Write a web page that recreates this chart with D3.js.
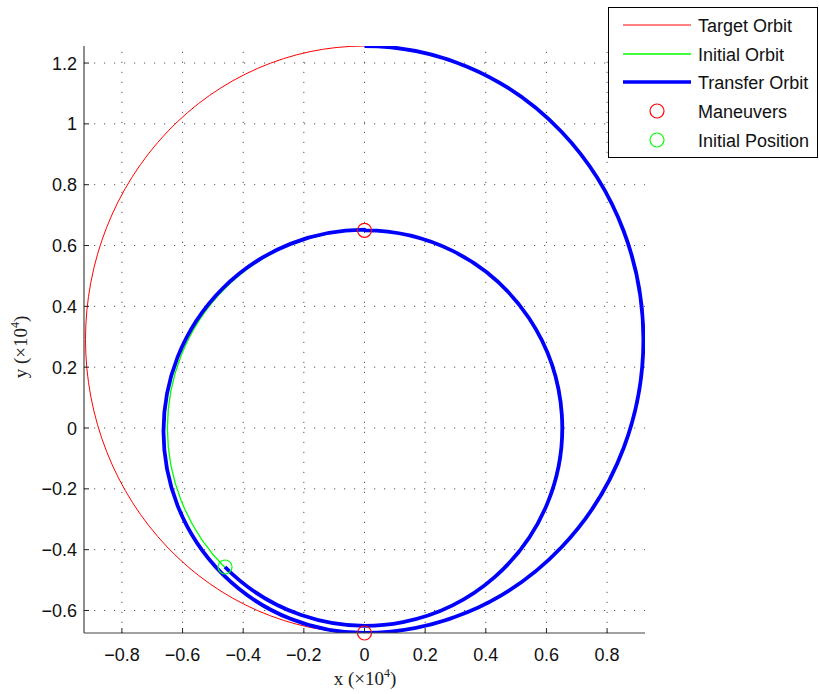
<!DOCTYPE html>
<html>
<head>
<meta charset="utf-8">
<script src="https://cdn.jsdelivr.net/npm/d3@7"></script>
<style>
  html, body { margin: 0; padding: 0; background: #fff; }
  svg { display: block; }
</style>
</head>
<body>
<svg id="chart" width="819" height="694"></svg>
<script>
// ---------- data (units of 10^4) ----------
const xTicks = [-0.8, -0.6, -0.4, -0.2, 0, 0.2, 0.4, 0.6, 0.8];
const yTicks = [-0.6, -0.4, -0.2, 0, 0.2, 0.4, 0.6, 0.8, 1, 1.2];
const xDomain = [-0.925, 0.925];
const yDomain = [-0.674, 1.256];

// Target orbit: apsides on the y axis (perigee y, apogee y)
const targetApsides = [-0.674, 1.256];
// Initial orbit: circle radius
const initialRadius = [0.65];
// Transfer ellipse apsides on the y axis (periapsis y, apoapsis y)
const transferApsides = [0.652, -0.674];
// Maneuver points
const maneuverX = [0, 0];
const maneuverY = [0.65, -0.674];
// Initial position
const initialPosX = [-0.46];
const initialPosY = [-0.457];

const legendLabels = ["Target Orbit", "Initial Orbit", "Transfer Orbit", "Maneuvers", "Initial Position"];

// ---------- layout ----------
const svg = d3.select("#chart");
const plot = { left: 84, right: 645, top: 46, bottom: 633 };
const x = d3.scaleLinear().domain(xDomain).range([plot.left, plot.right]);
const y = d3.scaleLinear().domain(yDomain).range([plot.bottom, plot.top]);

const RED = "#ff0000", GREEN = "#00ff00", BLUE = "#0000ff";
const sans = "'Liberation Sans', Arial, Helvetica, sans-serif";
const serif = "'Liberation Serif', 'DejaVu Serif', serif";

svg.append("defs").append("clipPath").attr("id", "clip")
  .append("rect")
  .attr("x", plot.left).attr("y", plot.top)
  .attr("width", plot.right - plot.left).attr("height", plot.bottom - plot.top);

// ---------- grid ----------
const grid = svg.append("g");
grid.selectAll("line.gx").data(xTicks).join("line")
  .attr("x1", d => x(d)).attr("x2", d => x(d))
  .attr("y1", plot.bottom).attr("y2", plot.top)
  .attr("stroke", "#555").attr("stroke-width", 1)
  .attr("stroke-dasharray", "1.2,8.8");
grid.selectAll("line.gy").data(yTicks).join("line")
  .attr("y1", d => y(d)).attr("y2", d => y(d))
  .attr("x1", plot.left).attr("x2", plot.right)
  .attr("stroke", "#555").attr("stroke-width", 1)
  .attr("stroke-dasharray", "1.2,8.8");

// ---------- orbits ----------
const lines = svg.append("g").attr("clip-path", "url(#clip)");
const pxX = v => x(v) - x(0);
const pxY = v => y(0) - y(v);

// target ellipse (focus at origin)
const tP = targetApsides[0], tA = targetApsides[1];
const tCenter = (tP + tA) / 2;
const tSemiMajor = (tA - tP) / 2;
const tSemiMinor = Math.sqrt(Math.abs(tP) * tA);
lines.append("ellipse")
  .attr("cx", x(0)).attr("cy", y(tCenter))
  .attr("rx", pxX(tSemiMinor)).attr("ry", pxY(tSemiMajor))
  .attr("fill", "none").attr("stroke", RED).attr("stroke-width", 1);

// initial circle
lines.append("ellipse")
  .attr("cx", x(0)).attr("cy", y(0))
  .attr("rx", pxX(initialRadius[0])).attr("ry", pxY(initialRadius[0]))
  .attr("fill", "none").attr("stroke", GREEN).attr("stroke-width", 1.3);

// transfer path: initial circle arc -> transfer ellipse -> target ellipse
const trP = transferApsides[0], trA = transferApsides[1];
const trSemiMajor = (trP - trA) / 2;
const trSemiMinor = Math.sqrt(trP * Math.abs(trA));
const r0 = initialRadius[0];
const transferPath =
  `M${x(initialPosX[0])},${y(initialPosY[0])}` +
  `A${pxX(r0)},${pxY(r0)} 0 1 0 ${x(0)},${y(r0)}` +
  `L${x(0)},${y(trP)}` +
  `A${pxX(trSemiMinor)},${pxY(trSemiMajor)} 0 0 0 ${x(0)},${y(trA)}` +
  `A${pxX(tSemiMinor)},${pxY(tSemiMajor)} 0 0 0 ${x(0)},${y(tA)}`;
lines.append("path")
  .attr("d", transferPath)
  .attr("fill", "none").attr("stroke", BLUE).attr("stroke-width", 3.8)
  .attr("stroke-linejoin", "round");

// ---------- markers ----------
const markers = svg.append("g");
markers.selectAll("circle.man").data(maneuverX.map((d, i) => [d, maneuverY[i]])).join("circle")
  .attr("cx", d => x(d[0])).attr("cy", d => y(d[1])).attr("r", 7)
  .attr("fill", "none").attr("stroke", RED).attr("stroke-width", 1.2);
markers.selectAll("circle.ini").data(initialPosX.map((d, i) => [d, initialPosY[i]])).join("circle")
  .attr("cx", d => x(d[0])).attr("cy", d => y(d[1])).attr("r", 7)
  .attr("fill", "none").attr("stroke", GREEN).attr("stroke-width", 1.2);

// ---------- axes ----------
const fmt = v => v === 0 ? "0" : (v < 0 ? "\u2212" : "") + String(+Math.abs(v).toFixed(1));
const axes = svg.append("g");
axes.append("line").attr("x1", plot.left).attr("x2", plot.left)
  .attr("y1", plot.top).attr("y2", plot.bottom).attr("stroke", "#444").attr("stroke-width", 1.2);
axes.append("line").attr("x1", plot.left).attr("x2", plot.right)
  .attr("y1", plot.bottom).attr("y2", plot.bottom).attr("stroke", "#444").attr("stroke-width", 1.2);
axes.selectAll("line.tx").data(xTicks).join("line")
  .attr("x1", d => x(d)).attr("x2", d => x(d))
  .attr("y1", plot.bottom).attr("y2", plot.bottom - 5)
  .attr("stroke", "#222").attr("stroke-width", 1);
axes.selectAll("line.ty").data(yTicks).join("line")
  .attr("y1", d => y(d)).attr("y2", d => y(d))
  .attr("x1", plot.left).attr("x2", plot.left + 5)
  .attr("stroke", "#222").attr("stroke-width", 1);
axes.selectAll("text.tx").data(xTicks).join("text")
  .attr("x", d => x(d)).attr("y", 661)
  .attr("text-anchor", "middle")
  .attr("font-family", sans).attr("font-size", 18).attr("fill", "#111")
  .text(fmt);
axes.selectAll("text.ty").data(yTicks).join("text")
  .attr("x", 77).attr("y", d => y(d) + 6.5)
  .attr("text-anchor", "end")
  .attr("font-family", sans).attr("font-size", 18).attr("fill", "#111")
  .text(fmt);

// axis labels
const xl = svg.append("text")
  .attr("x", 365).attr("y", 685).attr("text-anchor", "middle")
  .attr("font-family", serif).attr("font-size", 19).attr("fill", "#222");
xl.append("tspan").text("x (\u00d710");
xl.append("tspan").attr("font-size", 12).attr("dy", -8).text("4");
xl.append("tspan").attr("dy", 8).text(")");

const yl = svg.append("text")
  .attr("transform", "translate(27,347) rotate(-90)").attr("text-anchor", "middle")
  .attr("font-family", serif).attr("font-size", 19).attr("fill", "#222");
yl.append("tspan").text("y (\u00d710");
yl.append("tspan").attr("font-size", 12).attr("dy", -8).text("4");
yl.append("tspan").attr("dy", 8).text(")");

// ---------- legend ----------
const lg = svg.append("g");
lg.append("rect").attr("x", 608.5).attr("y", 7.5).attr("width", 209).attr("height", 150)
  .attr("fill", "#fff").attr("stroke", "#000").attr("stroke-width", 1);
const rowY = [25, 54, 82, 111, 140];
const lineStyles = [
  { color: RED, width: 1 },
  { color: GREEN, width: 1.3 },
  { color: BLUE, width: 3.5 }
];
lineStyles.forEach((s, i) => {
  lg.append("line").attr("x1", 623).attr("x2", 691)
    .attr("y1", rowY[i]).attr("y2", rowY[i])
    .attr("stroke", s.color).attr("stroke-width", s.width);
});
[RED, GREEN].forEach((c, i) => {
  lg.append("circle").attr("cx", 657).attr("cy", rowY[3 + i]).attr("r", 7)
    .attr("fill", "none").attr("stroke", c).attr("stroke-width", 1.2);
});
lg.selectAll("text").data(legendLabels).join("text")
  .attr("x", 698).attr("y", (d, i) => rowY[i] + 6.5)
  .attr("font-family", sans).attr("font-size", 18).attr("fill", "#111")
  .text(d => d);
</script>
</body>
</html>
